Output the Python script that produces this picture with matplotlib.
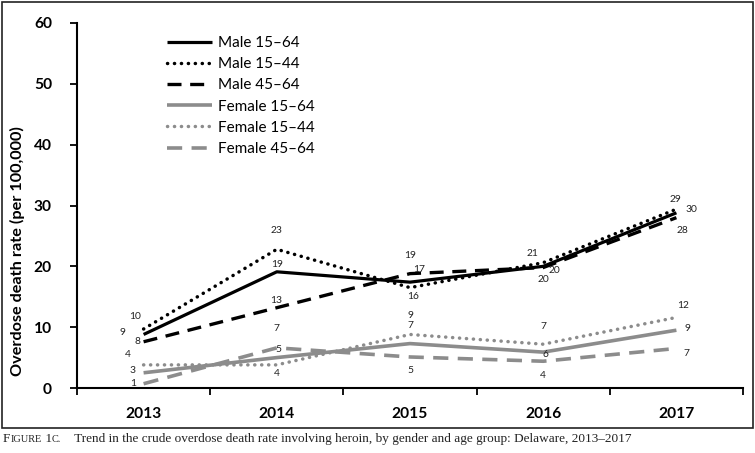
import matplotlib
matplotlib.use("Agg")
import matplotlib.pyplot as plt
import numpy as np
from matplotlib.patches import Rectangle

years = ["2013", "2014", "2015", "2016", "2017"]
series_names = ["Male 15–64", "Male 15–44", "Male 45–64",
                "Female 15–64", "Female 15–44", "Female 45–64"]

male_15_64 = [8.8, 19.1, 17.4, 20.0, 28.8]
male_15_44 = [9.7, 22.8, 16.5, 20.6, 29.4]
male_45_64 = [7.6, 13.2, 18.8, 19.8, 28.0]
female_15_64 = [2.5, 5.0, 7.3, 5.9, 9.5]
female_15_44 = [3.8, 3.8, 8.8, 7.2, 11.6]
female_45_64 = [0.7, 6.6, 5.1, 4.4, 6.5]

label_male_15_64 = ["9", "19", "17", "20", "30"]
label_male_15_44 = ["10", "23", "16", "21", "29"]
label_male_45_64 = ["8", "13", "19", "20", "28"]
label_female_15_64 = ["3", "5", "7", "6", "9"]
label_female_15_44 = ["4", "4", "9", "7", "12"]
label_female_45_64 = ["1", "7", "5", "4", "7"]

y_ticks = [0, 10, 20, 30, 40, 50, 60]
y_title = "Overdose death rate (per 100,000)"
caption_parts = [("F", 1.0), ("IGURE", 0.78), (" 1", 1.0), ("C.", 0.78),
                 ("    Trend in the crude overdose death rate involving heroin, by gender and age group: Delaware, 2013–2017", 1.0)]

values = [male_15_64, male_15_44, male_45_64, female_15_64, female_15_44, female_45_64]
labels = [label_male_15_64, label_male_15_44, label_male_45_64,
          label_female_15_64, label_female_15_44, label_female_45_64]

BLACK = "#000000"
GRAY = "#8c8c8c"
styles = [
    dict(color=BLACK, lw=2.3, ls="-"),
    dict(color=BLACK, lw=2.5, ls=(0, (0.05, 1.95)), dash_capstyle="round"),
    dict(color=BLACK, lw=2.4, ls=(0, (4.2, 2.6))),
    dict(color=GRAY, lw=2.6, ls="-"),
    dict(color=GRAY, lw=2.5, ls=(0, (0.05, 1.95)), dash_capstyle="round"),
    dict(color=GRAY, lw=2.6, ls=(0, (4.2, 2.6))),
]
# label offsets in pixels (dx, dy)
offsets = [
    [(-21, 2), (0, 7), (9, 13), (0, -13), (15, 3)],
    [(-9, 12), (0, 19), (3, -9), (-11, 9), (-1, 10)],
    [(-6, 0), (-1, 7), (0, 18), (11, -3), (6, -13)],
    [(-11, 2), (2, 8), (0, 18), (2, -2), (11, 2)],
    [(-16, 10), (0, -9), (0, 19), (0, 18), (7, 12)],
    [(-10, 0), (0, 19), (0, -14), (0, -14), (10, -5)],
]

W, H = 755, 453
fig = plt.figure(figsize=(W / 100, H / 100), dpi=100)
fig.patch.set_facecolor("white")

# outer border box
fig.add_artist(Rectangle((1.5 / W, 1 - 428 / H), 751 / W, 426.5 / H,
                         transform=fig.transFigure, fill=False,
                         edgecolor="#222222", lw=1.2))

ax = fig.add_axes([77 / W, 1 - 388 / H, (743 - 77) / W, (388 - 23) / H])
x = np.arange(len(years))
for vals, st, name in zip(values, styles, series_names):
    ax.plot(x, vals, label=name, solid_capstyle="butt", **st)

for vals, labs, offs in zip(values, labels, offsets):
    for xi, v, lab, off in zip(x, vals, labs, offs):
        ax.annotate(lab, (xi, v), xytext=off, textcoords="offset pixels",
                    ha="center", va="center", fontsize=7.4,
                    family="Lato", color="#222222")

ax.set_xlim(-0.5, len(years) - 0.5)
ax.set_ylim(0, 60)
ax.set_yticks(y_ticks)
ax.set_yticklabels([str(t) for t in y_ticks])
ax.set_xticks(x)
ax.set_xticklabels(years)
ax.set_xticks(np.arange(len(years) + 1) - 0.5, minor=True)
ax.tick_params(axis="x", which="major", length=0, pad=14)
ax.tick_params(axis="x", which="minor", length=5, width=1.3, direction="out")
ax.tick_params(axis="y", length=5, width=1.3, direction="out", pad=13)
for lab in ax.get_xticklabels() + ax.get_yticklabels():
    lab.set_fontfamily("Lato")
    lab.set_fontweight("bold")
    lab.set_fontsize(11.2)
for s in ["top", "right"]:
    ax.spines[s].set_visible(False)
for s in ["left", "bottom"]:
    ax.spines[s].set_linewidth(1.5)

fig.text(17 / W, 1 - 251 / H, y_title, rotation=90, ha="center", va="center",
         fontsize=11.7, fontweight="bold", family="Lato")

leg = ax.legend(loc="upper left", bbox_to_anchor=(167 / W, 1 - 36 / H),
                bbox_transform=fig.transFigure, frameon=False,
                handlelength=2.95, handletextpad=0.4, labelspacing=0.47,
                borderpad=0, borderaxespad=0, prop={"family": "Lato", "size": 11})

# caption with small caps
fig.canvas.draw()
r = fig.canvas.get_renderer()
xpos = 3
base = 9.5
for txt, scale in caption_parts:
    t = fig.text(xpos / W, 1 - 442 / H, txt, ha="left", va="baseline",
                 fontsize=base * scale, family="Liberation Serif", color="#222222")
    bb = t.get_window_extent(renderer=r)
    xpos += bb.width

fig.savefig("out.png", dpi=100, facecolor="white")
